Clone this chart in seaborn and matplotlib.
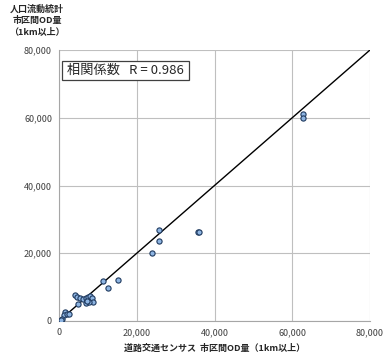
import matplotlib
matplotlib.use("Agg")
import matplotlib.pyplot as plt
import seaborn as sns
import pandas as pd
from matplotlib.ticker import FuncFormatter
from matplotlib.patches import Rectangle

census_od = [62700, 62700, 25600, 25600, 24000, 35700, 36100,
             11400, 15300, 12700,
             4100, 4700, 5400, 4900, 6300, 6900, 6900, 7500, 8000, 8400, 8800, 7800, 7300,
             1500, 1300, 2000, 2600, 700, 500]
mobile_od = [61000, 59800, 26900, 23500, 20200, 26200, 26400,
             11800, 12100, 9800,
             7700, 7200, 6700, 5000, 6400, 6700, 5200, 7200, 7400, 6700, 5700, 5700, 6000,
             2600, 1800, 2000, 2100, 500, 300]
line_x = [0, 80000]
line_y = [0, 80000]
ticks = [0, 20000, 40000, 60000, 80000]
corr_label = "相関係数   R = 0.986"
y_title = "人口流動統計\n市区間OD量\n（1km以上）"
x_title = "道路交通センサス  市区間OD量（1km以上）"

df = pd.DataFrame({"census": census_od, "mobile": mobile_od})

sns.set_style("white")
plt.rcParams['font.family'] = ['Noto Sans CJK JP', 'DejaVu Sans']

fig = plt.figure(figsize=(3.87, 3.58), dpi=100)
ax = fig.add_axes([59/387, 37/358, 311/387, 271/358])

ax.plot(line_x, line_y, color="black", lw=1.0, zorder=2)
sns.scatterplot(data=df, x="census", y="mobile", ax=ax, s=14,
                color="#8db4e2", edgecolor="#1f3a5f", linewidth=0.8, zorder=3)

ax.set_xlim(0, 80000)
ax.set_ylim(0, 80000)
ax.set_xticks(ticks)
ax.set_yticks(ticks)
fmt = FuncFormatter(lambda v, p: f"{int(v):,}")
ax.xaxis.set_major_formatter(fmt)
ax.yaxis.set_major_formatter(fmt)
ax.grid(True, color="#bfbfbf", lw=0.8)
ax.set_axisbelow(True)
for s in ["top", "right"]:
    ax.spines[s].set_visible(False)
for s in ["left", "bottom"]:
    ax.spines[s].set_color("#a6a6a6")
    ax.spines[s].set_linewidth(0.8)
ax.tick_params(axis="both", labelsize=6.5, colors="#404040", length=3, color="#a6a6a6", pad=2)
ax.set_xlabel("")
ax.set_ylabel("")

x0, x1 = 3/311, 130/311
y0, y1 = (321-80)/271, (321-61)/271
ax.add_patch(Rectangle((x0, y0), x1 - x0, y1 - y0, transform=ax.transAxes,
                       fc="white", ec="#404040", lw=0.9, zorder=5))
ax.text((x0 + x1) / 2, (y0 + y1) / 2, corr_label, transform=ax.transAxes, fontsize=9.5,
        va="center", ha="center", zorder=6, color="#262626")

fig.text(37/387, 1 - 5/358, y_title, ha="center", va="top", fontsize=6.5,
         fontweight="bold", linespacing=1.3)
fig.text(215/387, 1 - 348/358, x_title, ha="center", va="center", fontsize=6.5,
         fontweight="bold")

fig.savefig("out.png", dpi=100)
